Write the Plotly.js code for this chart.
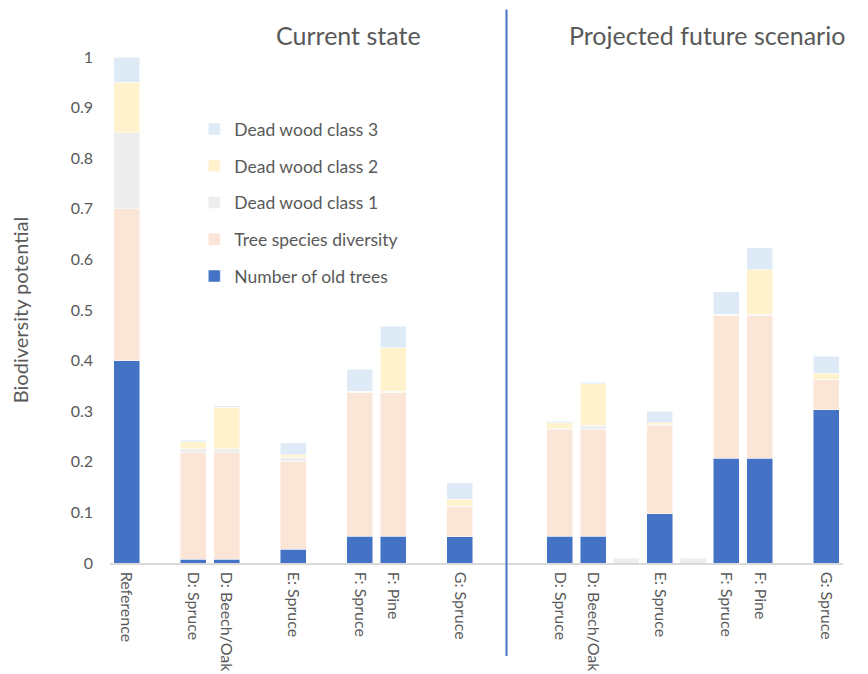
<!DOCTYPE html>
<html>
<head>
<meta charset="utf-8">
<script src="https://cdn.plot.ly/plotly-3.0.1.min.js"></script>
<style>
  html, body { margin: 0; padding: 0; background: #ffffff; }
  #chart { width: 868px; height: 674px; }
</style>
</head>
<body>
<div id="chart"></div>
<script>
// Slot labels along the x axis; empty strings are spacer slots.
const slotLabels = [
  "Reference", "", "D: Spruce", "D: Beech/Oak", "", "E: Spruce", "",
  "F: Spruce", "F: Pine", "", "G: Spruce", "", "",
  "D: Spruce", "D: Beech/Oak", "", "E: Spruce", "",
  "F: Spruce", "F: Pine", "", "G: Spruce"
];

// Component values per slot (null = no bar)
const oldTrees = [
  0.40, null, 0.007, 0.007, null, 0.027, null,
  0.053, 0.053, null, 0.052, null, null,
  0.053, 0.053, null, 0.097, null,
  0.207, 0.207, null, 0.303
];
const treeDiversity = [
  0.30, null, 0.211, 0.211, null, 0.174, null,
  0.284, 0.284, null, 0.060, null, null,
  0.210, 0.210, null, 0.174, null,
  0.283, 0.283, null, 0.060
];
const deadWood1 = [
  0.15, null, 0.008, 0.008, null, 0.008, null,
  0.002, 0.002, null, 0.000, null, null,
  0.002, 0.009, 0.009, 0.002, 0.009,
  0.002, 0.002, null, 0.000
];
const deadWood2 = [
  0.10, null, 0.014, 0.082, null, 0.005, null,
  0.000, 0.086, null, 0.014, null, null,
  0.012, 0.082, null, 0.004, null,
  0.000, 0.088, null, 0.012
];
const deadWood3 = [
  0.05, null, 0.003, 0.003, null, 0.024, null,
  0.044, 0.043, null, 0.033, null, null,
  0.003, 0.003, null, 0.023, null,
  0.044, 0.043, null, 0.034
];

const yTicks = [0, 0.1, 0.2, 0.3, 0.4, 0.5, 0.6, 0.7, 0.8, 0.9, 1];
const yTickText = ["0", "0.1", "0.2", "0.3", "0.4", "0.5", "0.6", "0.7", "0.8", "0.9", "1"];

const xPos = slotLabels.map((_, i) => i);
const textGrey = "#595959";
const fontFamily = "Lato, 'Open Sans', sans-serif";

function series(name, values, color, rank) {
  return {
    type: "bar",
    name: name,
    x: xPos,
    y: values,
    legendgroup: name,
    legendrank: rank,
    marker: { color: color, line: { color: "rgba(255,255,255,0.6)", width: 0.8 } },
    hoverinfo: "name+y"
  };
}

const traces = [
  series("Number of old trees", oldTrees, "#4472C4", 5),
  series("Tree species diversity", treeDiversity, "#FBE5D6", 4),
  series("Dead wood class 1", deadWood1, "#EDEDED", 3),
  series("Dead wood class 2", deadWood2, "#FFF2CC", 2),
  series("Dead wood class 3", deadWood3, "#DEEBF7", 1)
];

const layout = {
  width: 868,
  height: 674,
  margin: { l: 110, r: 25, t: 57, b: 111 },
  paper_bgcolor: "#ffffff",
  plot_bgcolor: "#ffffff",
  barmode: "stack",
  bargap: 0.22,
  font: { family: fontFamily, color: textGrey, size: 15 },
  showlegend: true,
  legend: {
    x: 0.115, y: 0.893, xanchor: "left", yanchor: "top",
    traceorder: "grouped",
    tracegroupgap: 11,
    itemwidth: 30,
    font: { size: 17.5, color: textGrey },
    bgcolor: "rgba(0,0,0,0)"
  },
  xaxis: {
    range: [-0.5, 21.5],
    tickmode: "array",
    tickvals: xPos,
    ticktext: slotLabels,
    tickangle: 90,
    ticks: "",
    showgrid: false,
    zeroline: false,
    showline: true,
    linecolor: "#D9D9D9",
    linewidth: 1.5,
    ticklabelstandoff: 4,
    tickfont: { size: 16, color: textGrey },
    fixedrange: true
  },
  yaxis: {
    range: [0, 1],
    tickmode: "array",
    tickvals: yTicks,
    ticktext: yTickText,
    ticks: "",
    showgrid: false,
    zeroline: false,
    showline: false,
    ticklabelstandoff: 16,
    tickfont: { size: 16, color: textGrey },
    title: { text: "Biodiversity potential", font: { size: 20, color: textGrey }, standoff: 36 },
    fixedrange: true
  },
  shapes: [
    {
      type: "line", xref: "x", yref: "paper",
      x0: 11.4, x1: 11.4, y0: -0.184, y1: 1.094,
      line: { color: "#4472C4", width: 2 }
    }
  ],
  annotations: [
    {
      text: "Current state", xref: "paper", yref: "paper",
      x: 0.325, xanchor: "center", y: 1.0, yanchor: "bottom", yshift: 5, showarrow: false,
      font: { size: 25, color: textGrey }
    },
    {
      text: "Projected future scenario", xref: "paper", yref: "paper",
      x: 0.814, xanchor: "center", y: 1.0, yanchor: "bottom", yshift: 5, showarrow: false,
      font: { size: 25, color: textGrey }
    }
  ]
};

Plotly.newPlot("chart", traces, layout, { displayModeBar: false, staticPlot: true });
</script>
</body>
</html>
